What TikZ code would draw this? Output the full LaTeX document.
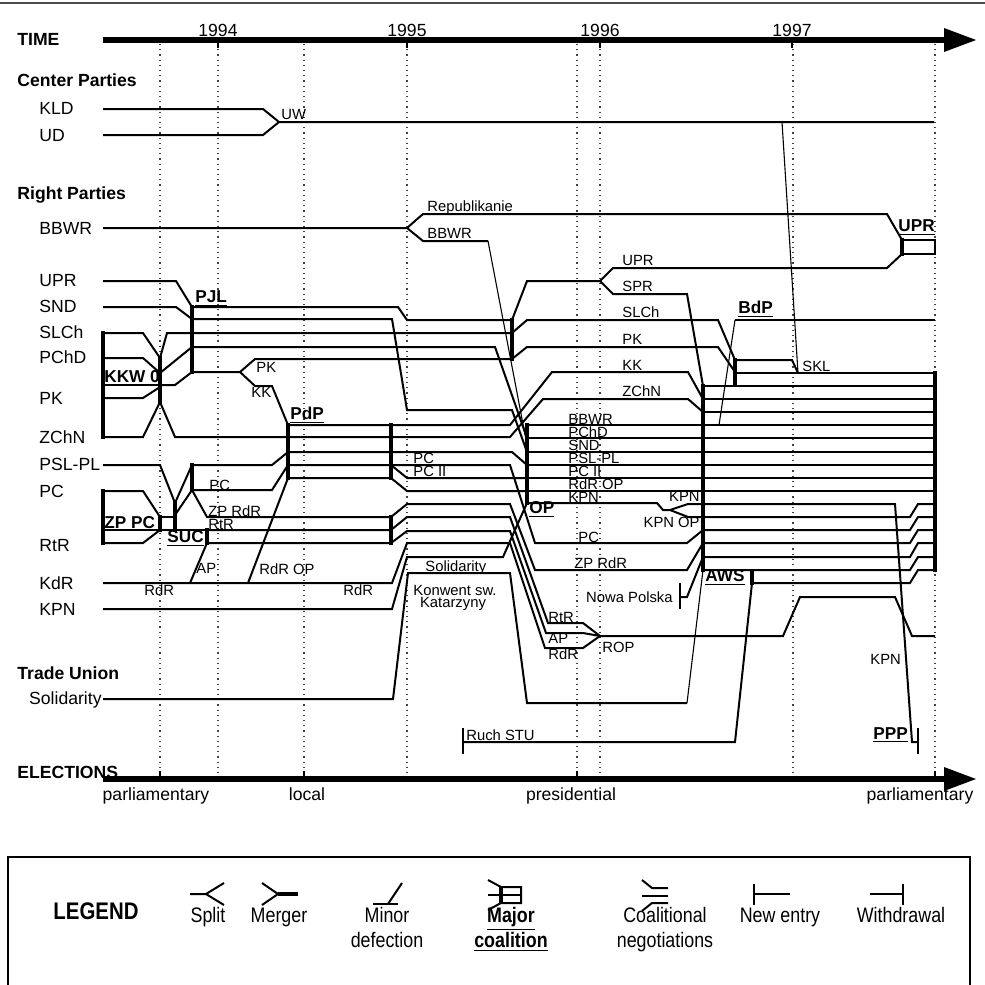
\documentclass[tikz,border=0pt]{standalone}
\usepackage{fontspec}
\setmainfont{Liberation Sans}
\newfontfamily\narrowfont[FakeStretch=0.85]{Liberation Sans}
\usetikzlibrary{arrows.meta}
\tikzset{
  pline/.style = {line width=1pt},
  tline/.style = {line width=0.55pt},
  cbar/.style  = {line width=2.2pt},
  taxis/.style = {line width=2.6pt},
  grid/.style  = {dotted, line width=0.6pt, black!75},
  head/.style  = {font=\fontsize{8.8}{10}\selectfont\bfseries, inner sep=0pt, anchor=base west},
  party/.style = {font=\fontsize{8.8}{10}\selectfont, inner sep=0pt, anchor=base west},
  lbl/.style   = {font=\fontsize{7.4}{8}\selectfont, inner sep=0pt, anchor=base west},
  coal/.style  = {font=\fontsize{8.6}{10}\selectfont\bfseries, inner sep=0pt, anchor=base west},
  leg/.style   = {font=\narrowfont\fontsize{10.5}{12}\selectfont, inner sep=0pt, anchor=base},
}

\begin{document}
\begin{tikzpicture}[x=0.5pt, y=-0.5pt]
  \useasboundingbox (0,0) rectangle (985,985);
  \draw[black!70, line width=0.8pt] (0,3) -- (985,3);

  % time and election axes
  \foreach \x in {160,218,304,407,577,600,793,935}
    \draw[grid] (\x,44) -- (\x,776);
  \draw[taxis] (103,40) -- (950,40);
  \fill (944,28) -- (976,40) -- (944,52) -- cycle;
  \foreach \x/\yr in {218/1994, 407/1995, 600/1996, 792/1997} {
    \draw[pline] (\x,40) -- (\x,48);
    \node[party, anchor=base] (yr\yr) at (\x,36) {\yr};
  }
  \draw[taxis] (103,779) -- (950,779);
  \fill (944,767) -- (976,779) -- (944,791) -- cycle;
  \foreach \x in {160,304,577,935}
    \draw[pline] (\x,771) -- (\x,779);
  \node[party, anchor=base] (el1) at (156,800) {parliamentary};
  \node[party, anchor=base] (el2) at (307,800) {local};
  \node[party, anchor=base] (el3) at (571,800) {presidential};
  \node[party, anchor=base] (el4) at (920,800) {parliamentary};

  % headings and party names
  \node[head] (time) at (17,46) {TIME};
  \node[head] (center) at (17,86) {Center Parties};
  \node[head] (right) at (17,199) {Right Parties};
  \node[head] (union) at (17,679) {Trade Union};
  \node[head] (elect) at (17,778) {ELECTIONS};
  \foreach \y/\nm in {114/KLD, 141/UD, 234/BBWR, 286/UPR, 312/SND, 338/SLCh,
                      363/PChD, 404/PK, 443/ZChN, 470/PSL-PL, 497/PC, 551/RtR,
                      589/KdR, 615/KPN}
    \node[party] (p\nm) at (39,\y) {\nm};
  \node[party, anchor=base east] (psol) at (102,704) {Solidarity};

  % center parties
  \draw[pline] (103,109) -- (263,109) -- (279,122) -- (934,122);
  \draw[pline] (103,135) -- (263,135) -- (279,122);
  \draw[tline] (782,122) -- (798,373);
  \node[lbl] (uw) at (281,119) {UW};

  % BBWR and UPR
  \draw[pline] (103,228) -- (407,228) -- (423,214) -- (887,214) -- (902,240);
  \draw[pline] (407,228) -- (423,241) -- (488,241);
  \draw[tline] (488,241) -- (527,445);
  \node[lbl] (repu) at (427,211) {Republikanie};
  \node[lbl] (bbwr2) at (427,238) {BBWR};
  \draw[cbar] (902,238) -- (902,256);
  \draw[pline] (902,240) -- (935,240) -- (935,254) -- (902,254);
  \node[coal] (upr2) at (898,231) {\underline{UPR}};

  % PJL and KKW
  \draw[pline] (103,281) -- (176,281) -- (192,307);
  \draw[pline] (103,307) -- (176,307) -- (192,319);
  \draw[cbar] (192,305) -- (192,374);
  \node[coal] (pjl) at (195,302) {\underline{PJL}};
  \draw[cbar] (103,331) -- (103,439);
  \draw[pline] (103,333) -- (143,333) -- (160,358);
  \draw[pline] (103,358) -- (143,358) -- (160,373);
  \draw[pline] (103,385) -- (160,385);
  \draw[pline] (103,398) -- (143,398) -- (160,387);
  \draw[pline] (103,437) -- (143,437) -- (160,402);
  \draw[cbar] (160,356) -- (160,404);
  \node[coal] (kkw) at (104,382) {KKW 0};
  \draw[pline] (160,358) -- (167,333) -- (512,333);
  \draw[pline] (160,373) -- (192,347);
  \draw[pline] (160,385) -- (175,385) -- (192,372);
  \draw[pline] (160,402) -- (175,437) -- (510,437) -- (543,399) -- (688,399) -- (703,412);
  \draw[pline] (192,307) -- (398,307) -- (407,320) -- (512,320);
  \draw[pline] (192,319) -- (392,319) -- (407,410) -- (512,410) -- (527,452);
  \draw[pline] (192,347) -- (495,347) -- (527,438);
  \draw[pline] (192,372) -- (240,372) -- (255,359) -- (512,359);
  \draw[pline] (240,372) -- (255,386) -- (272,386) -- (288,425) -- (510,425)
               -- (552,372) -- (688,372) -- (703,399);
  \node[lbl] (pk1) at (256,372) {PK};
  \node[lbl] (kk1) at (251,397) {KK};

  % right coalition 1996
  \draw[cbar] (512,318) -- (512,361);
  \draw[pline] (512,320) -- (527,281) -- (600,281) -- (613,268) -- (887,268) -- (902,254);
  \draw[pline] (600,281) -- (613,294) -- (687,294) -- (703,386);
  \draw[pline] (512,333) -- (527,320) -- (718,320) -- (735,360);
  \draw[pline] (512,359) -- (527,347) -- (718,347) -- (735,372);
  \foreach \y/\nm in {265/UPR, 291/SPR, 317/SLCh, 344/PK, 370/KK, 396/ZChN}
    \node[lbl] (r\nm) at (622,\y) {\nm};

  % BdP
  \draw[cbar] (735,358) -- (735,387);
  \draw[pline] (735,360) -- (792,360) -- (798,373);
  \draw[pline] (735,373) -- (935,373);
  \draw[tline] (719,425) -- (735,320);
  \draw[pline] (735,320) -- (935,320);
  \node[coal] (bdp) at (738,313) {\underline{BdP}};
  \node[lbl] (skl) at (802,371) {SKL};

  % PSL-PL, SUC, ZP PC
  \draw[pline] (103,465) -- (160,465) -- (175,503);
  \draw[cbar] (175,501) -- (175,532);
  \draw[pline] (175,503) -- (192,465);
  \draw[pline] (175,515) -- (192,490);
  \draw[cbar] (192,463) -- (192,492);
  \draw[pline] (192,465) -- (272,465) -- (288,452) -- (512,452) -- (527,465);
  \draw[pline] (192,490) -- (272,490) -- (288,465) -- (510,465) -- (535,543)
               -- (687,543) -- (703,530);
  \draw[pline] (391,465) -- (407,478) -- (527,478);
  \draw[pline] (192,490) -- (207,517) -- (391,517) -- (407,504) -- (510,504)
               -- (535,570) -- (687,570) -- (703,543);
  \draw[pline] (248,583) -- (288,478) -- (391,478) -- (407,491) -- (527,491);
  \draw[cbar] (103,489) -- (103,545);
  \draw[pline] (103,491) -- (143,491) -- (160,517);
  \draw[pline] (103,530) -- (160,530);
  \draw[pline] (103,543) -- (143,543) -- (160,530);
  \draw[cbar] (160,515) -- (160,532);
  \draw[pline] (160,517) -- (175,517);
  \draw[pline] (160,530) -- (207,530);
  \draw[cbar] (207,528) -- (207,545);
  \draw[pline] (190,583) -- (207,543);
  \draw[pline] (207,530) -- (391,530) -- (407,517) -- (510,517) -- (548,623)
               -- (583,623) -- (600,636);
  \draw[pline] (207,543) -- (391,543) -- (407,531) -- (510,531) -- (546,633)
               -- (583,633) -- (600,636);
  \node[coal] (zppc) at (104,528) {ZP PC};
  \node[coal] (suc) at (167,542) {\underline{SUC}};
  \node[lbl] (pc1) at (209,490) {PC};
  \node[lbl] (zprdr1) at (208,516) {ZP RdR};
  \node[lbl] (rtr1) at (208,529) {RtR};
  \node[lbl] (ap1) at (196,573) {AP};
  \node[lbl] (rdrop1) at (259,574) {RdR OP};

  % PdP
  \draw[cbar] (288,423) -- (288,480);
  \draw[cbar] (391,423) -- (391,480);
  \draw[cbar] (391,515) -- (391,545);
  \node[coal] (pdp) at (290,419) {\underline{PdP}};
  \node[lbl] (pc2) at (413,463) {PC};
  \node[lbl] (pcii) at (413,476) {PC II};

  % KdR, KPN
  \draw[pline] (103,583) -- (392,583) -- (407,543) -- (510,543) -- (545,648)
               -- (583,648) -- (600,636);
  \draw[pline] (103,609) -- (392,609) -- (407,557) -- (503,557) -- (527,503)
               -- (657,503) -- (663,510) -- (670,510) -- (688,504) -- (703,504);
  \draw[pline] (670,510) -- (688,517) -- (703,517);
  \node[lbl] (rdr1) at (144,595) {RdR};
  \node[lbl] (rdr2) at (343,595) {RdR};

  % ROP
  \draw[pline] (600,636) -- (783,636) -- (800,597) -- (895,597) -- (912,636) -- (935,636);
  \node[lbl] (rtr2) at (548,622) {RtR};
  \node[lbl] (ap2) at (548,643) {AP};
  \node[lbl] (rdr3) at (548,659) {RdR};
  \node[lbl] (rop) at (602,652) {ROP};

  % OP
  \draw[cbar] (527,423) -- (527,505);
  \foreach \y in {425,438,452,465,478,491}
    \draw[pline] (527,\y) -- (703,\y);
  \foreach \y/\nm in {424/BBWR, 437/PChD, 450/SND, 463/PSL-PL, 476/PC II, 489/RdR OP, 502/KPN}
    \node[lbl] (o\y) at (568,\y) {\nm};
  \node[coal] (op) at (529,513) {\underline{OP}};
  \node[lbl, anchor=base east] (kpn2) at (700,501) {KPN};
  \node[lbl, anchor=base east] (kpnop) at (700,527) {KPN OP};
  \node[lbl] (pc3) at (578,542) {PC};
  \node[lbl] (zprdr2) at (574,568) {ZP RdR};

  % Solidarity, Nowa Polska, Ruch STU
  \draw[pline] (103,699) -- (393,699) -- (408,573) -- (510,573) -- (527,703) -- (687,703);
  \draw[tline] (687,703) -- (703,570);
  \node[lbl] (sol2) at (425,571) {Solidarity};
  \node[lbl, anchor=base] (konw) at (455,595) {Konwent sw.};
  \node[lbl, anchor=base] (kata) at (453,607) {Katarzyny};
  \draw[pline] (680,583) -- (680,609);
  \draw[pline] (680,597) -- (687,597) -- (703,557);
  \node[lbl, anchor=base east] (nowa) at (673,602) {Nowa Polska};
  \draw[pline] (463,728) -- (463,754);
  \draw[pline] (463,742) -- (735,742) -- (752,583);
  \node[lbl] (ruch) at (466,740) {Ruch STU};

  % AWS
  \draw[cbar] (703,384) -- (703,572);
  \draw[cbar] (752,569) -- (752,585);
  \foreach \y in {386,399,412,425,438,452,465,478,491}
    \draw[pline] (703,\y) -- (935,\y);
  \draw[pline] (703,504) -- (895,504) -- (912,742) -- (918,742);
  \draw[pline] (918,728) -- (918,754);
  \foreach \y/\z in {517/504, 530/517, 543/530, 557/543, 570/557}
    \draw[pline] (703,\y) -- (910,\y) -- (918,\z) -- (935,\z);
  \draw[pline] (752,583) -- (910,583) -- (918,570) -- (935,570);
  \draw[cbar] (935,371) -- (935,572);
  \node[coal] (aws) at (705,581) {\underline{AWS}};
  \node[lbl] (kpn3) at (870,664) {KPN};
  \node[coal] (ppp) at (873,739) {\underline{PPP}};

  % legend
  \draw[line width=1.2pt] (8,995) -- (8,857) -- (970,857) -- (970,995);
  \node[leg, font=\narrowfont\fontsize{12}{14}\selectfont\bfseries] (legend) at (96,919) {LEGEND};
  % split
  \draw[pline] (190,894) -- (206,894) -- (224,883);
  \draw[pline] (206,894) -- (224,905);
  % merger
  \draw[pline] (262,883) -- (278,894) -- (262,905);
  \draw[line width=1.6pt] (278,894) -- (298,894);
  % minor defection
  \draw[pline] (373,904) -- (398,904);
  \draw[pline] (388,904) -- (402,883);
  % major coalition
  \draw[pline] (488,880) -- (501,887) -- (521,887) -- (521,903) -- (501,903) -- (488,910);
  \draw[pline] (488,895) -- (521,895);
  \draw[cbar] (501,886) -- (501,904);
  % coalitional negotiations
  \draw[pline] (642,880) -- (652,888) -- (668,888);
  \draw[pline] (642,896) -- (668,896);
  \draw[pline] (642,911) -- (652,903) -- (668,903);
  % new entry, withdrawal
  \draw[pline] (754,884) -- (754,905);
  \draw[pline] (754,894) -- (790,894);
  \draw[pline] (870,894) -- (903,894);
  \draw[pline] (903,884) -- (903,905);
  \node[leg] (lsplit) at (208,922) {Split};
  \node[leg] (lmerge) at (279,922) {Merger};
  \node[leg] (lminor) at (387,922) {Minor};
  \node[leg] (ldefect) at (387,947) {defection};
  \node[leg, font=\narrowfont\fontsize{10.5}{12}\selectfont\bfseries] (lmajor) at (511,922) {\underline{Major}};
  \node[leg, font=\narrowfont\fontsize{10.5}{12}\selectfont\bfseries] (lcoal) at (511,947) {\underline{coalition}};
  \node[leg] (lneg1) at (665,922) {Coalitional};
  \node[leg] (lneg2) at (665,947) {negotiations};
  \node[leg] (lnew) at (780,922) {New entry};
  \node[leg] (lwith) at (901,922) {Withdrawal};
\end{tikzpicture}
\end{document}
